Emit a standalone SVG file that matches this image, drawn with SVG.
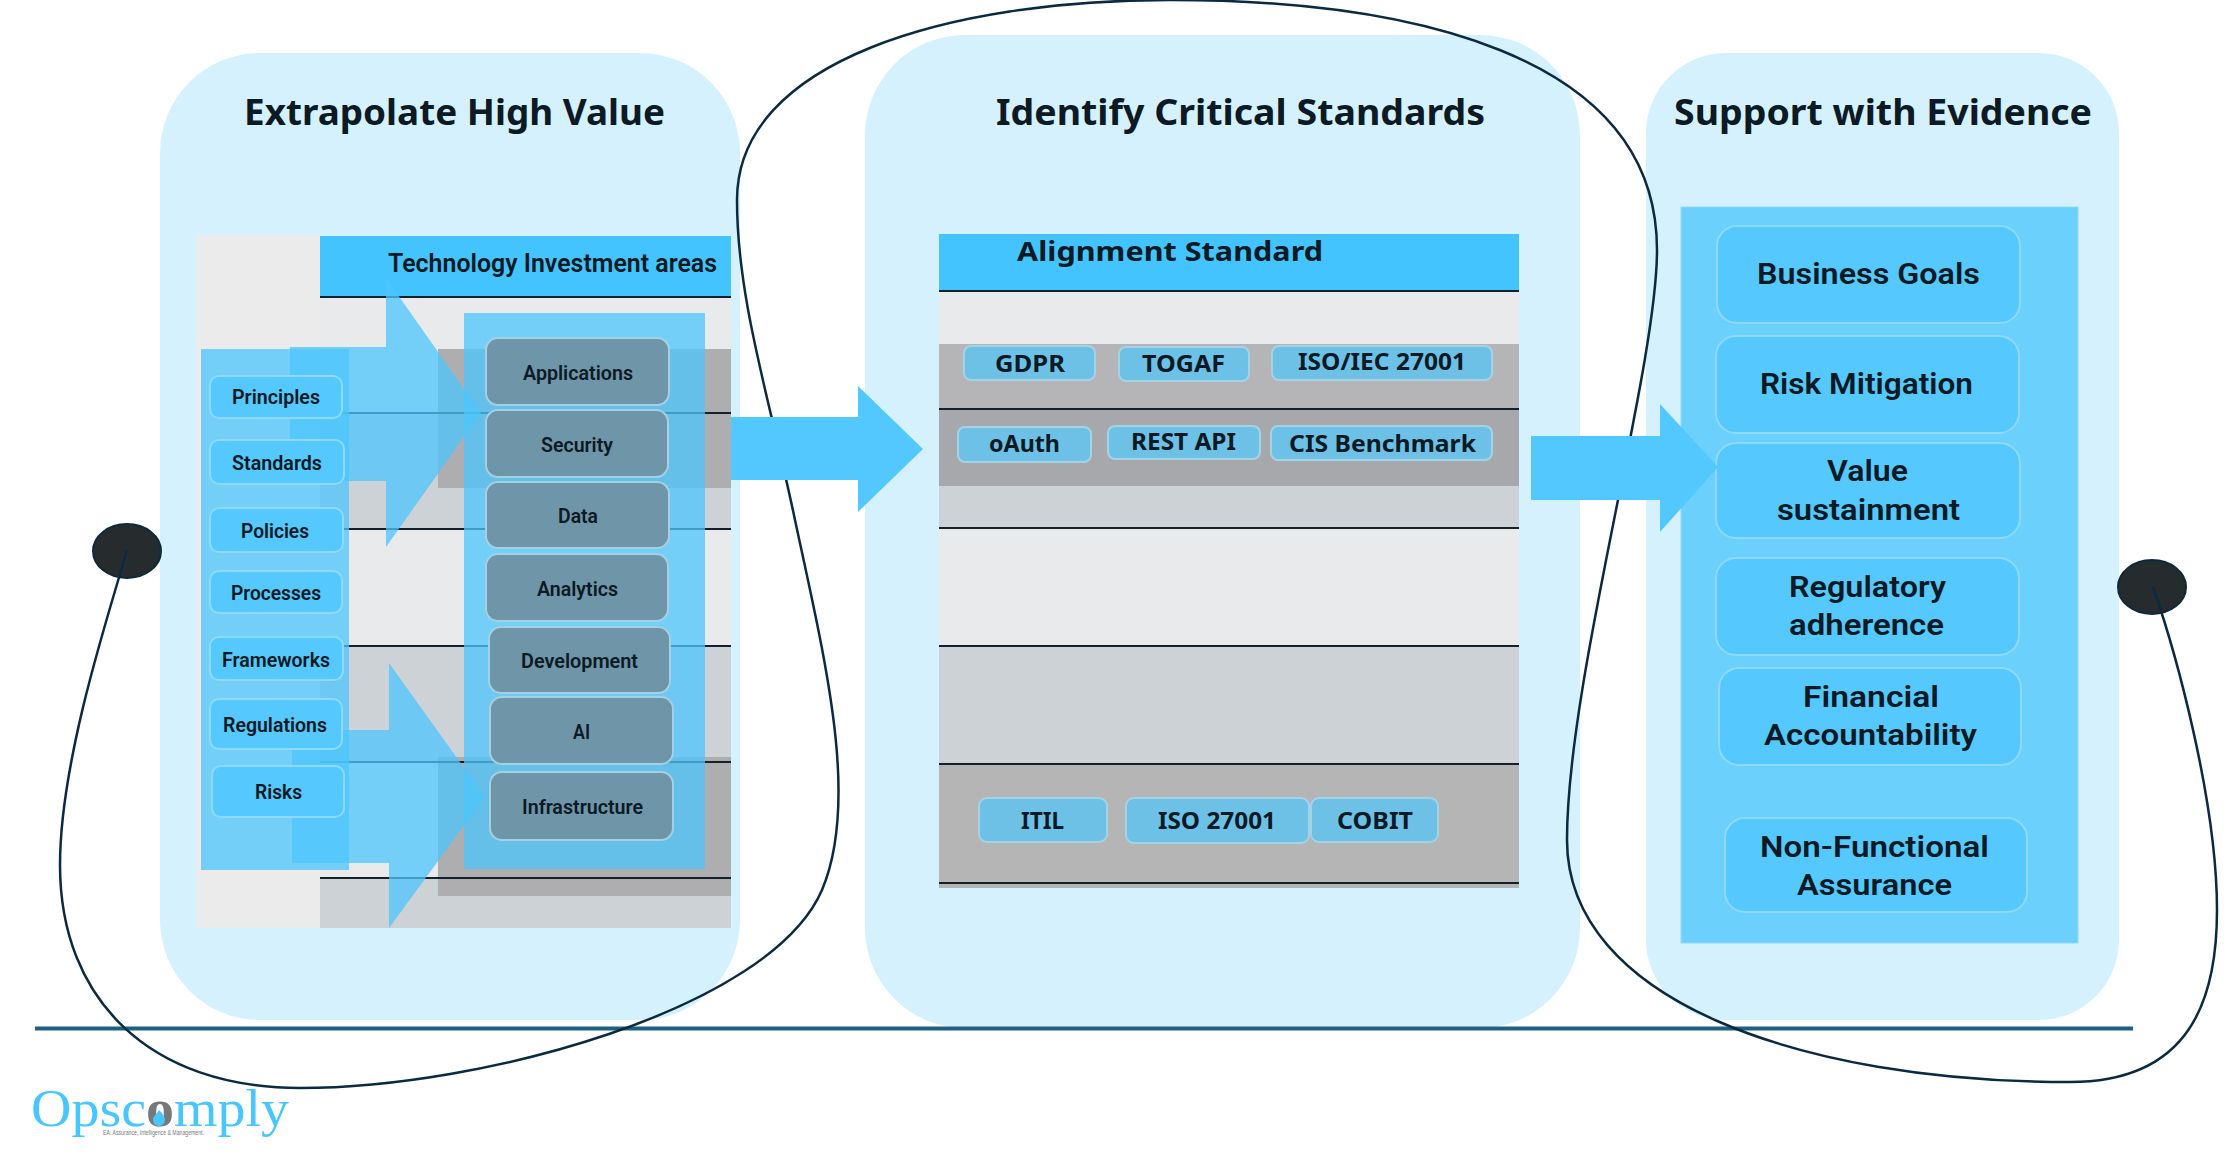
<svg xmlns="http://www.w3.org/2000/svg" width="2224" height="1171" viewBox="0 0 2224 1171">
<style>
text{font-family:Roboto,"Liberation Sans",sans-serif;font-weight:600;fill:#0b1a24}
.t{font-family:"Noto Sans","Liberation Sans",sans-serif;font-size:36px;font-weight:700}
.h{font-size:25px}
.s{font-size:21px}
.m{font-family:"Noto Sans","Liberation Sans",sans-serif;font-size:23px;font-weight:700}
.r{font-size:29px}
.panel{fill:#d5f1fe}
.band1{fill:#e8eaec}
.band2{fill:#cdd2d6}
.grey{fill:#aeaeb0}
.ln{stroke:#15202a;stroke-width:2;fill:none}
.p1{fill:#55c8fd;stroke:#8edafb;stroke-width:2}
.p2{fill:#6f95a8;stroke:#a5cfe2;stroke-width:2}
.p3{fill:#6ec1e6;stroke:#a4d3e6;stroke-width:2}
.big{fill:#52c8ff}
.ghost{fill:#4cc6fc;opacity:.75}
</style>
<rect width="2224" height="1171" fill="#fff"/>
<g id="panel-left"><rect class="panel" x="160" y="53" width="580" height="967" rx="100"/><text class="t" x="244" y="125" textLength="421" lengthAdjust="spacingAndGlyphs">Extrapolate High Value</text></g>
<g id="panel-middle"><rect class="panel" x="865" y="35" width="715" height="993" rx="100"/><text class="t" x="996" y="125" textLength="489" lengthAdjust="spacingAndGlyphs">Identify Critical Standards</text></g>
<g id="panel-right"><rect class="panel" x="1646" y="53" width="473" height="967" rx="80"/><text class="t" x="1674" y="125" textLength="418" lengthAdjust="spacingAndGlyphs">Support with Evidence</text></g>
<line x1="35" y1="1028.5" x2="2133" y2="1028.5" stroke="#1f6080" stroke-width="4"/>

<g id="investment-table">
<rect x="196" y="235" width="124" height="693" fill="#ebebec"/>
<rect x="320" y="236" width="411" height="61" fill="#44c4ff"/>
<rect class="band1" x="320" y="297" width="411" height="116"/>
<rect class="band2" x="320" y="413" width="411" height="116"/>
<rect class="band1" x="320" y="529" width="411" height="117"/>
<rect class="band2" x="320" y="646" width="411" height="116"/>
<rect class="band1" x="320" y="762" width="411" height="116"/>
<rect class="band2" x="320" y="878" width="411" height="50"/>
<rect class="grey" x="438" y="349" width="293" height="139"/>
<rect class="grey" x="438" y="757" width="293" height="139"/>
<path class="ln" d="M320 297H731M320 413H731M320 529H731M320 646H731M320 762H731M320 878H731"/>
<text class="h" x="388" y="272" textLength="329" lengthAdjust="spacingAndGlyphs">Technology Investment areas</text>
</g>
<g id="area-column"><rect class="ghost" x="464" y="313" width="241" height="556"/></g>
<g id="arrow-upper"><path class="ghost" d="M290 347H386V278L481 413L386 547V481H290Z"/></g>
<g id="arrow-lower"><path class="ghost" d="M292 730H389V663L485 797L389 928V863H292Z"/></g>
<g id="source-column"><rect class="ghost" x="201" y="349" width="148" height="521"/></g>

<g id="principles"><rect class="p1" x="210" y="376" width="132" height="42" rx="9"/><text class="s" x="232" y="404" textLength="88" lengthAdjust="spacingAndGlyphs">Principles</text></g>
<g id="standards"><rect class="p1" x="210" y="440" width="134" height="44" rx="9"/><text class="s" x="232" y="470" textLength="90" lengthAdjust="spacingAndGlyphs">Standards</text></g>
<g id="policies"><rect class="p1" x="210" y="508" width="133" height="44" rx="9"/><text class="s" x="241" y="538" textLength="68" lengthAdjust="spacingAndGlyphs">Policies</text></g>
<g id="processes"><rect class="p1" x="210" y="571" width="132" height="42" rx="9"/><text class="s" x="231" y="600" textLength="90" lengthAdjust="spacingAndGlyphs">Processes</text></g>
<g id="frameworks"><rect class="p1" x="210" y="637" width="133" height="43" rx="9"/><text class="s" x="222" y="667" textLength="108" lengthAdjust="spacingAndGlyphs">Frameworks</text></g>
<g id="regulations"><rect class="p1" x="210" y="699" width="132" height="50" rx="9"/><text class="s" x="223" y="732" textLength="104" lengthAdjust="spacingAndGlyphs">Regulations</text></g>
<g id="risks"><rect class="p1" x="212" y="766" width="132" height="51" rx="9"/><text class="s" x="255" y="799" textLength="47" lengthAdjust="spacingAndGlyphs">Risks</text></g>

<g id="applications"><rect class="p2" x="486" y="338" width="183" height="67" rx="12"/><text class="s" x="523" y="380" textLength="110" lengthAdjust="spacingAndGlyphs">Applications</text></g>
<g id="security"><rect class="p2" x="486" y="410" width="182" height="67" rx="12"/><text class="s" x="541" y="452" textLength="72" lengthAdjust="spacingAndGlyphs">Security</text></g>
<g id="data"><rect class="p2" x="486" y="482" width="183" height="66" rx="12"/><text class="s" x="558" y="523" textLength="40" lengthAdjust="spacingAndGlyphs">Data</text></g>
<g id="analytics"><rect class="p2" x="486" y="554" width="182" height="67" rx="12"/><text class="s" x="537" y="596" textLength="81" lengthAdjust="spacingAndGlyphs">Analytics</text></g>
<g id="development"><rect class="p2" x="489" y="627" width="181" height="66" rx="12"/><text class="s" x="521" y="668" textLength="117" lengthAdjust="spacingAndGlyphs">Development</text></g>
<g id="ai"><rect class="p2" x="490" y="697" width="183" height="67" rx="12"/><text class="s" x="573" y="739" textLength="17" lengthAdjust="spacingAndGlyphs">AI</text></g>
<g id="infrastructure"><rect class="p2" x="490" y="772" width="183" height="68" rx="12"/><text class="s" x="522" y="814" textLength="121" lengthAdjust="spacingAndGlyphs">Infrastructure</text></g>

<g id="alignment-table">
<rect x="939" y="234" width="580" height="57" fill="#44c4ff"/>
<rect class="band1" x="939" y="291" width="580" height="53"/>
<rect x="939" y="344" width="580" height="65" fill="#b5b5b7"/>
<rect x="939" y="409" width="580" height="77" fill="#a6a8ab"/>
<rect class="band2" x="939" y="486" width="580" height="42"/>
<rect class="band1" x="939" y="528" width="580" height="118"/>
<rect class="band2" x="939" y="646" width="580" height="118"/>
<rect x="939" y="764" width="580" height="124" fill="#b5b5b6"/>
<path class="ln" d="M939 291H1519M939 409H1519M939 528H1519M939 646H1519M939 764H1519M939 883H1519"/>
<text x="1017" y="261" style="font-family:'Noto Sans','Liberation Sans',sans-serif;font-size:27px;font-weight:700" textLength="306" lengthAdjust="spacingAndGlyphs">Alignment Standard</text>
</g>
<g id="gdpr"><rect class="p3" x="964" y="346" width="131" height="34" rx="7"/><text class="m" x="995" y="372" textLength="70" lengthAdjust="spacingAndGlyphs">GDPR</text></g>
<g id="togaf"><rect class="p3" x="1119" y="347" width="130" height="34" rx="7"/><text class="m" x="1142" y="372" textLength="83" lengthAdjust="spacingAndGlyphs">TOGAF</text></g>
<g id="iso-iec-27001"><rect class="p3" x="1272" y="346" width="220" height="34" rx="7"/><text class="m" x="1298" y="370" textLength="168" lengthAdjust="spacingAndGlyphs">ISO/IEC 27001</text></g>
<g id="oauth"><rect class="p3" x="958" y="427" width="133" height="35" rx="7"/><text class="m" x="989" y="452" textLength="71" lengthAdjust="spacingAndGlyphs">oAuth</text></g>
<g id="rest-api"><rect class="p3" x="1108" y="426" width="152" height="33" rx="7"/><text class="m" x="1131" y="450" textLength="105" lengthAdjust="spacingAndGlyphs">REST API</text></g>
<g id="cis-benchmark"><rect class="p3" x="1271" y="426" width="221" height="34" rx="7"/><text class="m" x="1289" y="452" textLength="187" lengthAdjust="spacingAndGlyphs">CIS Benchmark</text></g>
<g id="itil"><rect class="p3" x="979" y="798" width="128" height="44" rx="8"/><text class="m" x="1021" y="829" textLength="43" lengthAdjust="spacingAndGlyphs">ITIL</text></g>
<g id="iso-27001"><rect class="p3" x="1126" y="798" width="183" height="45" rx="8"/><text class="m" x="1158" y="829" textLength="118" lengthAdjust="spacingAndGlyphs">ISO 27001</text></g>
<g id="cobit"><rect class="p3" x="1311" y="798" width="127" height="44" rx="8"/><text class="m" x="1337" y="829" textLength="76" lengthAdjust="spacingAndGlyphs">COBIT</text></g>

<g id="evidence-column"><rect x="1681" y="207" width="397" height="736" fill="#6cd0fc" stroke="#8edafb" stroke-width="1"/></g>
<g id="business-goals"><rect class="p1" x="1717" y="226" width="303" height="97" rx="20"/><text class="r" x="1757" y="284" textLength="223" lengthAdjust="spacingAndGlyphs">Business Goals</text></g>
<g id="risk-mitigation"><rect class="p1" x="1716" y="336" width="303" height="97" rx="20"/><text class="r" x="1760" y="394" textLength="213" lengthAdjust="spacingAndGlyphs">Risk Mitigation</text></g>
<g id="value-sustainment"><rect class="p1" x="1716" y="443" width="304" height="95" rx="20"/><text class="r" x="1827" y="481" textLength="81" lengthAdjust="spacingAndGlyphs">Value</text><text class="r" x="1777" y="520" textLength="183" lengthAdjust="spacingAndGlyphs">sustainment</text></g>
<g id="regulatory-adherence"><rect class="p1" x="1716" y="558" width="303" height="97" rx="20"/><text class="r" x="1789" y="597" textLength="157" lengthAdjust="spacingAndGlyphs">Regulatory</text><text class="r" x="1789" y="635" textLength="155" lengthAdjust="spacingAndGlyphs">adherence</text></g>
<g id="financial-accountability"><rect class="p1" x="1719" y="668" width="302" height="97" rx="20"/><text class="r" x="1803" y="707" textLength="136" lengthAdjust="spacingAndGlyphs">Financial</text><text class="r" x="1764" y="745" textLength="213" lengthAdjust="spacingAndGlyphs">Accountability</text></g>
<g id="non-functional-assurance"><rect class="p1" x="1725" y="818" width="302" height="94" rx="20"/><text class="r" x="1760" y="857" textLength="229" lengthAdjust="spacingAndGlyphs">Non-Functional</text><text class="r" x="1797" y="895" textLength="155" lengthAdjust="spacingAndGlyphs">Assurance</text></g>

<g id="dot-left"><ellipse cx="127" cy="551" rx="34" ry="27" fill="#262b2e" stroke="#0e2a3a" stroke-width="2"/></g>
<g id="dot-right"><ellipse cx="2152" cy="587" rx="34" ry="27" fill="#262b2e" stroke="#0e2a3a" stroke-width="2"/></g>

<g id="connectors">
<path d="M127 551C100 640 60 770 60 865C60 1000 150 1088 300 1088C480 1088 770 1010 822 890C860 800 825 660 795 520C770 400 737 300 737 200C737 60 950 0 1170 0C1400 0 1657 50 1657 250C1657 370 1567 680 1567 840C1567 1000 1800 1082 2070 1082C2190 1082 2217 1000 2217 910C2217 800 2175 650 2153 587" fill="none" stroke="#0b2a40" stroke-width="2.5"/>
</g>

<g id="arrow-middle"><path class="big" d="M731 417H858V386L923 449L858 512V480H731Z"/></g>
<g id="arrow-right"><path class="big" d="M1531 436H1660V404L1718 467L1660 532V500H1531Z"/></g>

<g id="logo">
<text x="31" y="1126" style="font-family:'Liberation Serif',serif;font-weight:400;font-size:52px;fill:#4ac6ff" textLength="258" lengthAdjust="spacingAndGlyphs">Opsc<tspan style="fill:#77787b;font-weight:700">o</tspan>mply</text>
<path d="M159 1110C163 1114 165 1117 165 1120A6 6 0 0 1 153 1120C153 1116 157 1114 159 1110Z" fill="#4ac6ff"/>
<text x="103" y="1135" style="font-family:'Liberation Sans',sans-serif;font-weight:400;font-size:6.5px;fill:#777" textLength="101" lengthAdjust="spacingAndGlyphs">EA: Assurance, Intelligence &amp; Management.</text>
</g>
</svg>
